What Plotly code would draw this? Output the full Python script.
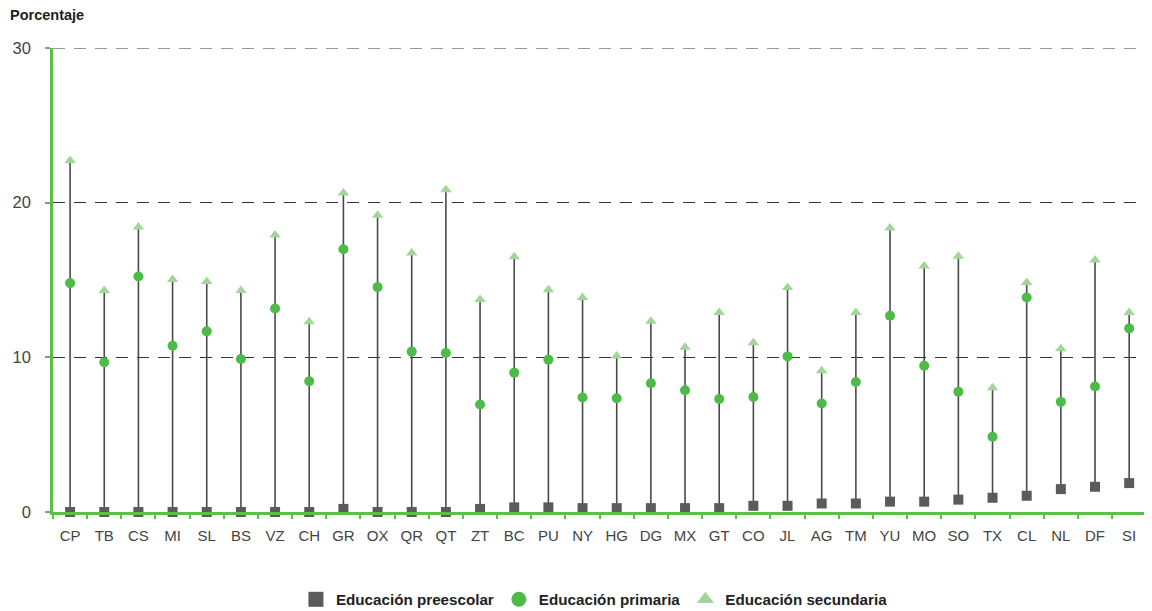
import plotly.graph_objects as go

estados = ["CP", "TB", "CS", "MI", "SL", "BS", "VZ", "CH", "GR", "OX", "QR", "QT",
           "ZT", "BC", "PU", "NY", "HG", "DG", "MX", "GT", "CO", "JL", "AG", "TM",
           "YU", "MO", "SO", "TX", "CL", "NL", "DF", "SI"]
preescolar = [0.0, 0.0, 0.0, 0.0, 0.0, 0.0, 0.0, 0.0, 0.2, 0.0, 0.0, 0.0,
              0.2, 0.3, 0.3, 0.25, 0.25, 0.25, 0.25, 0.25, 0.4, 0.4, 0.55, 0.55,
              0.67, 0.67, 0.8, 0.92, 1.05, 1.48, 1.63, 1.87]
primaria = [14.8, 9.68, 15.23, 10.75, 11.68, 9.89, 13.16, 8.45, 16.99, 14.54, 10.37, 10.28,
            6.95, 9.01, 9.85, 7.4, 7.35, 8.32, 7.87, 7.31, 7.44, 10.06, 7.01, 8.41,
            12.69, 9.46, 7.78, 4.86, 13.87, 7.12, 8.11, 11.87]
secundaria = [22.73, 14.32, 18.43, 15.03, 14.9, 14.32, 17.91, 12.3, 20.62, 19.18, 16.75, 20.84,
              13.74, 16.5, 14.37, 13.87, 10.09, 12.34, 10.65, 12.9, 10.95, 14.52, 9.14, 12.9,
              18.37, 15.91, 16.54, 8.04, 14.84, 10.56, 16.3, 12.9]
series_names = ["Educación preescolar", "Educación primaria", "Educación secundaria"]
y_ticks = [0, 10, 20, 30]
y_max = 30

AXIS_GREEN = "#5cbf4c"
GRAY = "#5b5b5d"
GREEN = "#4cbb47"
LIGHT_GREEN = "#a2d699"
GRID = "#333333"
FONT = "Liberation Sans"

line_x, line_y = [], []
for e, p, s in zip(estados, preescolar, secundaria):
    line_x += [e, e, None]
    line_y += [p, s, None]

fig = go.Figure()
fig.add_trace(go.Scatter(x=line_x, y=line_y, mode="lines",
                         line=dict(color="#4a4a4c", width=1.6),
                         showlegend=False, hoverinfo="skip", cliponaxis=False))

styles = [("square", 10, 15, GRAY), ("circle", 10, 15, GREEN), ("triangle-up", 10, 15, LIGHT_GREEN)]
for name, vals, (sym, size, lsize, col) in zip(series_names, [preescolar, primaria, secundaria], styles):
    fig.add_trace(go.Scatter(x=estados, y=vals, mode="markers", name=name,
                             marker=dict(symbol=sym, size=size, color=col),
                             cliponaxis=False, showlegend=False))
    # legend entry with a larger symbol
    fig.add_trace(go.Scatter(x=[None], y=[None], mode="markers", name=name,
                             marker=dict(symbol=sym, size=lsize, color=col),
                             showlegend=True, hoverinfo="skip"))

# dashed gridline at the top value (plotly hides gridlines on the range edge)
fig.add_shape(type="line", xref="paper", yref="y", x0=0, x1=1, y0=y_max, y1=y_max,
              line=dict(color=GRID, width=1, dash="12px,9px"), layer="below")

fig.update_layout(
    width=1144, height=611,
    margin=dict(l=45, r=3, t=40, b=106.5),
    plot_bgcolor="white", paper_bgcolor="white",
    font=dict(family=FONT, color="#444444", size=15),
    legend=dict(orientation="h", x=0.494, xanchor="center", y=-0.1884, yanchor="middle",
                font=dict(family=FONT, size=15.2, color="#222222", weight="bold"),
                itemwidth=30, tracegroupgap=0),
    annotations=[dict(text="<b>Porcentaje</b>", xref="paper", yref="paper",
                      x=-0.041, y=1.071, xanchor="left", yanchor="middle", showarrow=False,
                      font=dict(family=FONT, size=14.5, color="#222222"))],
)
fig.update_xaxes(
    type="category", range=[-0.5, len(estados) - 0.42],
    showline=True, linecolor=AXIS_GREEN, linewidth=2.5,
    ticks="outside", tickson="boundaries", ticklen=4, tickcolor=AXIS_GREEN, tickwidth=2,
    showgrid=False, tickangle=0, tickfont=dict(size=15, color="#444444"), ticklabelstandoff=8,
)
fig.update_yaxes(
    range=[0, y_max], tickvals=y_ticks,
    showline=True, linecolor=AXIS_GREEN, linewidth=2.5,
    ticks="outside", ticklen=5, tickcolor=AXIS_GREEN, tickwidth=2,
    showgrid=True, gridcolor=GRID, gridwidth=1, griddash="12px,9px",
    zeroline=False, tickfont=dict(size=16.5, color="#444444"), ticklabelstandoff=11,
)

fig.write_html("out.html")
